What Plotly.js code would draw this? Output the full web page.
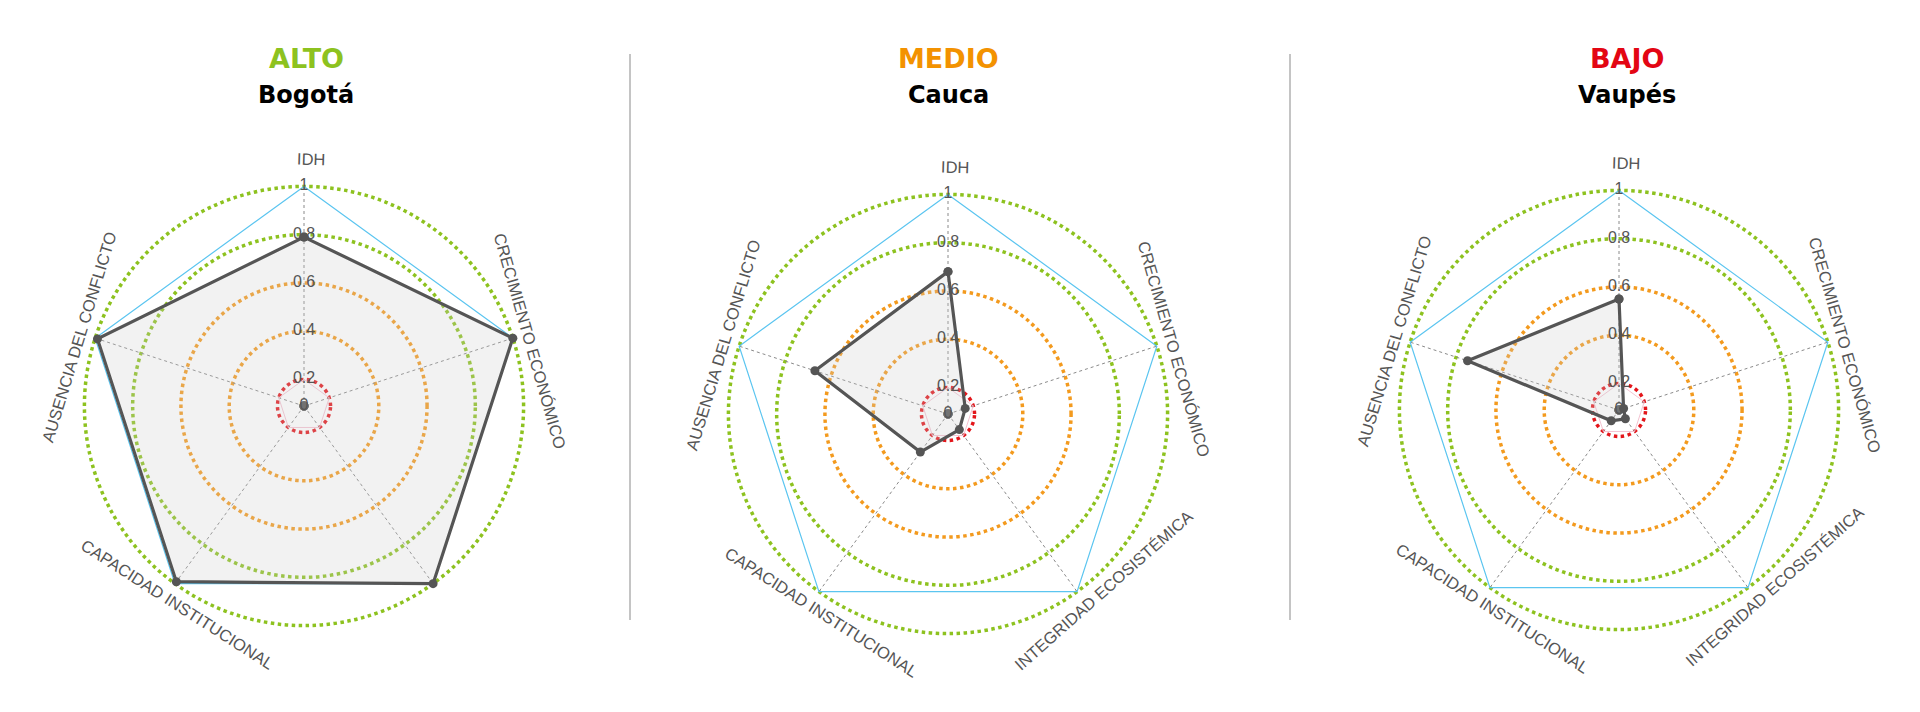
<!DOCTYPE html>
<html>
<head>
<meta charset="utf-8">
<script src="https://cdn.plot.ly/plotly-3.0.1.min.js"></script>
<style>
html, body { margin: 0; padding: 0; background: #fff; }
#chart { width: 1920px; height: 712px; }
</style>
</head>
<body>
<div id="chart"></div>
<script>
// datos
var categorias = ['IDH', 'CRECIMIENTO ECONÓMICO', 'INTEGRIDAD ECOSISTÉMICA', 'CAPACIDAD INSTITUCIONAL', 'AUSENCIA DEL CONFLICTO'];
var niveles = ['ALTO', 'MEDIO', 'BAJO'];
var departamentos = ['Bogotá', 'Cauca', 'Vaupés'];
var bogota = [0.79, 1, 1, 0.99, 0.99];
var cauca = [0.68, 0.165, 0.17, 0.285, 0.67];
var vaupes = [0.55, 0.11, 0.135, 0.145, 0.75];
var maximo = [1, 1, 1, 1, 1];
var minimo = [0.2, 0.2, 0.2, 0.2, 0.2];
var cero = [0.09, 0.09, 0.09, 0.09, 0.09];
var tickVals = [0.09, 0.2, 0.4, 0.6, 0.8, 1];
var tickText = ['0', '0.2', '0.4', '0.6', '0.8', '1'];
var umbralAlto = [0.8, 1];
var umbralMedio = [0.4, 0.6];
var umbralBajo = [0.2];

var W = 1920, H = 712;
// el maximo va un poco por encima de 1 para que se dibuje el anillo exterior
var rango = [0.09, 1.01];
var colorNivel = ['#8dc21f', '#f39200', '#e30613'];
var centros = [[304, 406], [948, 414], [1619, 410]];
var radio = 222;
var tituloX = [306, 948, 1627];
// etiquetas que no aparecen en cada radar
var ocultas = [[2], [], []];
var series = [bogota, cauca, vaupes];

var fontTxt = 'Liberation Sans, Arial, sans-serif';
var fontTit = 'DejaVu Sans, sans-serif';

function cerrar(a) { return a.concat([a[0]]); }

function dominio(c) {
	return {
		x: [(c[0] - radio) / W, (c[0] + radio) / W],
		y: [(H - c[1] - radio) / H, (H - c[1] + radio) / H]
	};
}

function polarId(n) { return n === 1 ? 'polar' : 'polar' + n; }

var data = [];
var layout = {
	width: W,
	height: H,
	margin: {l: 0, r: 0, t: 0, b: 0},
	paper_bgcolor: '#fff',
	showlegend: false,
	annotations: [],
	shapes: [
		{type: 'line', xref: 'paper', yref: 'paper', x0: 630 / W, x1: 630 / W, y0: 1 - 54 / H, y1: 1 - 620 / H, line: {color: '#b0b0b0', width: 1.5}},
		{type: 'line', xref: 'paper', yref: 'paper', x0: 1290 / W, x1: 1290 / W, y0: 1 - 54 / H, y1: 1 - 620 / H, line: {color: '#b0b0b0', width: 1.5}}
	]
};

var anillos = [
	{vals: umbralAlto, color: '#8dc21f'},
	{vals: umbralMedio, color: '#f39a1e'},
	{vals: umbralBajo, color: '#e3161b'}
];

var angEtiqueta = [88.3, 16, -48.5, -122.7, 163];

for (var k = 0; k < 3; k++) {
	var dom = dominio(centros[k]);
	// anillos punteados de colores (un subplot por color)
	for (var j = 0; j < anillos.length; j++) {
		var id = polarId(4 * k + j + 1);
		data.push({
			type: 'scatterpolar', subplot: id,
			r: cerrar(maximo), theta: cerrar(categorias),
			mode: 'lines', line: {width: 0, color: 'rgba(0,0,0,0)'},
			hoverinfo: 'skip'
		});
		layout[id] = {
			domain: dom,
			bgcolor: 'rgba(0,0,0,0)',
			radialaxis: {
				range: rango, tickvals: anillos[j].vals, showticklabels: false, ticks: '',
				showline: false, showgrid: true, gridcolor: anillos[j].color, gridwidth: 3.5, griddash: 'dot'
			},
			angularaxis: {
				direction: 'clockwise', rotation: 90, showgrid: false, showline: false,
				showticklabels: false, ticks: ''
			}
		};
	}
	var idm = polarId(4 * k + 4);
	layout[idm] = {
		domain: dom,
		bgcolor: 'rgba(0,0,0,0)',
		radialaxis: {range: rango, showgrid: false, showline: false, showticklabels: false, ticks: ''},
		angularaxis: {
			direction: 'clockwise', rotation: 90, showline: false, showticklabels: false, ticks: '',
			showgrid: true, gridcolor: '#8a8a8a', gridwidth: 1, griddash: 'dot'
		}
	};
	data.push({
		type: 'scatterpolar', subplot: idm,
		r: cerrar(maximo), theta: cerrar(categorias),
		mode: 'lines', line: {color: '#5bc5f0', width: 1.2}, hoverinfo: 'skip'
	});
	data.push({
		type: 'scatterpolar', subplot: idm,
		r: cerrar(minimo), theta: cerrar(categorias),
		mode: 'lines', line: {color: '#f4c4d2', width: 1}, hoverinfo: 'skip'
	});
	data.push({
		type: 'scatterpolar', subplot: idm,
		r: cero, theta: categorias,
		mode: 'markers', marker: {color: '#555', size: 9}, hoverinfo: 'skip'
	});
	data.push({
		type: 'scatterpolar', subplot: idm,
		r: cerrar(series[k]), theta: cerrar(categorias),
		mode: 'lines+markers', fill: 'toself', fillcolor: 'rgba(205,205,205,0.25)',
		line: {color: '#555', width: 3.2}, marker: {color: '#555', size: 9},
		name: departamentos[k]
	});
	data.push({
		type: 'scatterpolar', subplot: idm,
		r: tickVals, theta: tickVals.map(function () { return categorias[0]; }),
		mode: 'text', text: tickText, textposition: 'middle center',
		textfont: {family: fontTxt, size: 16, color: '#555'}, hoverinfo: 'skip'
	});

	// titulos
	layout.annotations.push({
		xref: 'paper', yref: 'paper', x: tituloX[k] / W, y: 1 - 59 / H,
		xanchor: 'center', yanchor: 'middle',
		text: '<b>' + niveles[k] + '</b>', showarrow: false,
		font: {family: fontTit, size: 27, color: colorNivel[k]}
	});
	layout.annotations.push({
		xref: 'paper', yref: 'paper', x: tituloX[k] / W, y: 1 - 95 / H,
		xanchor: 'center', yanchor: 'middle',
		text: '<b>' + departamentos[k] + '</b>', showarrow: false,
		font: {family: fontTit, size: 24, color: '#000'}
	});

	// etiquetas de categoria giradas
	for (var i = 0; i < categorias.length; i++) {
		if (ocultas[k].indexOf(i) >= 0) continue;
		var th = angEtiqueta[i];
		var R = categorias[i].length < 5 ? 247 : 235;
		var px = centros[k][0] + R * Math.cos(th * Math.PI / 180);
		var py = centros[k][1] - R * Math.sin(th * Math.PI / 180);
		var rot = 90 - th;
		while (rot > 90) rot -= 180;
		while (rot < -90) rot += 180;
		layout.annotations.push({
			xref: 'paper', yref: 'paper', x: px / W, y: 1 - py / H,
			xanchor: 'center', yanchor: 'middle',
			text: categorias[i], textangle: rot, showarrow: false,
			font: {family: fontTxt, size: 16.5, color: '#555'}
		});
	}
}

Plotly.newPlot('chart', data, layout, {displayModeBar: false, staticPlot: true});
</script>
</body>
</html>
